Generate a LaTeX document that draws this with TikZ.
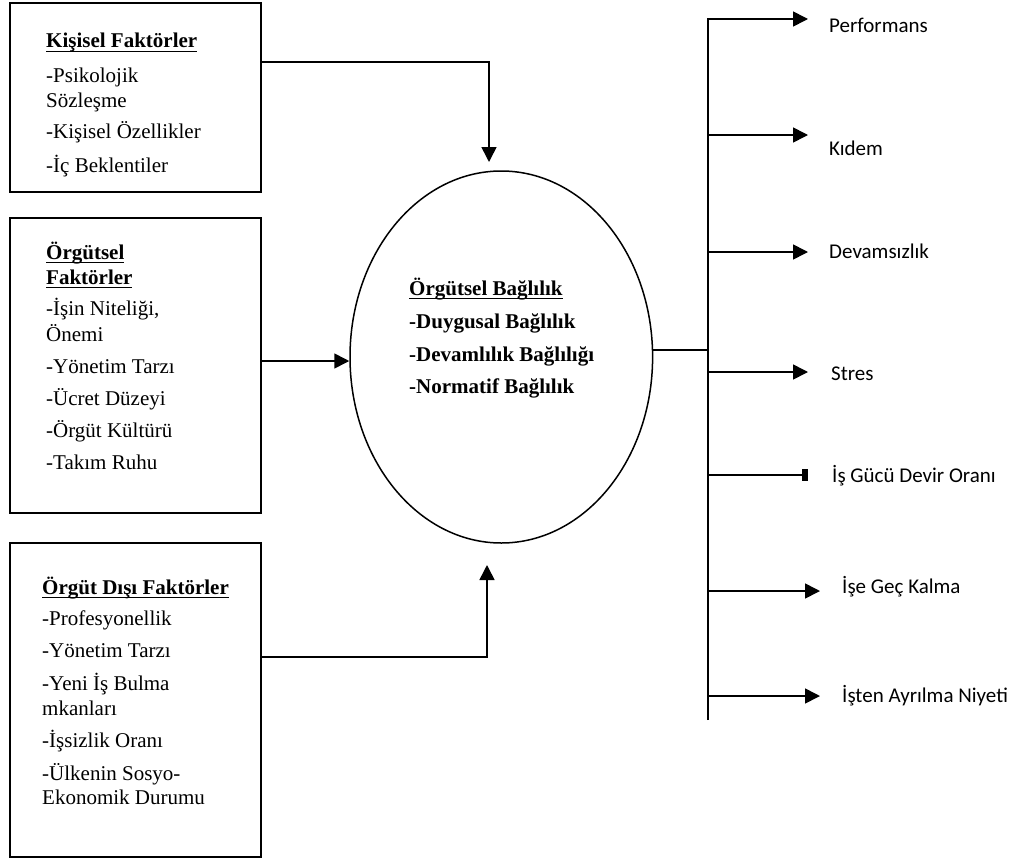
\documentclass[tikz,border=0pt]{standalone}
\usepackage{fontspec}
\setmainfont{Liberation Serif}
\newfontfamily\calfont{Carlito}
% underline set close to the baseline
\newcommand{\ulx}[1]{\setbox0\hbox{#1}\rlap{\rule[-4pt]{\wd0}{1.4pt}}\box0}
\usetikzlibrary{arrows.meta,shapes.geometric}
\begin{document}
\begin{tikzpicture}[x=1pt,y=-1pt,
  box/.style={draw,line width=2pt,rectangle,inner sep=0pt},
  txt/.style={anchor=base west,inner sep=0pt,font=\fontsize{21}{25}\selectfont},
  btxt/.style={anchor=base west,inner sep=0pt,font=\fontsize{21}{25}\selectfont\bfseries},
  outtxt/.style={anchor=base west,inner sep=0pt,font=\calfont\fontsize{21}{25}\selectfont},
  conn/.style={line width=1.6pt},
  arr/.style={conn,-{Triangle[length=15pt,width=15pt]}},
  stub/.style={conn,-{Square[length=6pt,width=12pt]}},
]
\useasboundingbox[fill=white] (0,0) rectangle (1016,859);

% factor boxes
\node[box,minimum width=251pt,minimum height=189pt] (kis) at (135.5,97.5) {};
\node[box,minimum width=251pt,minimum height=295pt] (org) at (135.5,365.5) {};
\node[box,minimum width=251pt,minimum height=314pt] (dis) at (135.5,700) {};

% personal factors
\node[btxt] (k0) at (46,48) {\ulx{Kişisel Faktörler}};
\node[txt] (k1) at (46,82) {-Psikolojik};
\node[txt] (k2) at (46,107) {Sözleşme};
\node[txt] (k3) at (46,138) {-Kişisel Özellikler};
\node[txt] (k4) at (46,172) {-İç Beklentiler};

% organisational factors
\node[btxt] (o0) at (46,259) {\ulx{Örgütsel}};
\node[btxt] (o1) at (46,284) {\ulx{Faktörler}};
\node[txt] (o2) at (46,315) {-İşin Niteliği,};
\node[txt] (o3) at (46,341) {Önemi};
\node[txt] (o4) at (46,373) {-Yönetim Tarzı};
\node[txt] (o5) at (46,405) {-Ücret Düzeyi};
\node[txt] (o6) at (46,437) {-Örgüt Kültürü};
\node[txt] (o7) at (46,469) {-Takım Ruhu};

% external factors
\node[btxt] (d0) at (42,594) {\ulx{Örgüt Dışı Faktörler}};
\node[txt] (d1) at (42,625) {-Profesyonellik};
\node[txt] (d2) at (42,657) {-Yönetim Tarzı};
\node[txt] (d3) at (42,690) {-Yeni İş Bulma};
\node[txt] (d4) at (42,715) {mkanları};
\node[txt] (d5) at (42,747) {-İşsizlik Oranı};
\node[txt] (d6) at (42,780) {-Ülkenin Sosyo-};
\node[txt] (d7) at (42,804) {Ekonomik Durumu};

% central ellipse
\node[draw,ellipse,line width=1.5pt,minimum width=302.6pt,minimum height=372pt,inner sep=0pt] (ell) at (501.3,357) {};
\node[btxt] (e0) at (409,295) {\ulx{Örgütsel Bağlılık}};
\node[btxt] (e1) at (409,328) {-Duygusal Bağlılık};
\node[btxt] (e2) at (409,361) {-Devamlılık Bağlılığı};
\node[btxt] (e3) at (409,393) {-Normatif Bağlılık};

% inputs into the ellipse
\coordinate (t1) at (489,162);
\coordinate (t3) at (487,565);
\draw[arr] ([yshift=35.5pt]kis.east) -| (t1);
\draw[arr] ([yshift=4.5pt]org.east) -- ([yshift=4.5pt]org.east -| ell.west);
\draw[arr] ([yshift=43pt]dis.east) -| (t3);

% outcome bus
\coordinate (bt) at (708,19);
\coordinate (bb) at (708,720);
\draw[conn] ([yshift=7pt]ell.east) -- ([yshift=7pt]ell.east -| bt);

\coordinate (p1) at (808,19);
\coordinate (p2) at (808,135);
\coordinate (p3) at (808,252);
\coordinate (p4) at (808,372);
\coordinate (p5) at (808,475);
\coordinate (p6) at (820,591);
\coordinate (p7) at (820,696);

\draw[arr] (bb) -- (bt) -- (p1);
\draw[arr] (bt |- p2) -- (p2);
\draw[arr] (bt |- p3) -- (p3);
\draw[arr] (bt |- p4) -- (p4);
\draw[stub] (bt |- p5) -- (p5);
\draw[arr] (bt |- p6) -- (p6);
\draw[arr] (bt |- p7) -- (p7);

% outcome labels
\node[outtxt] (r1) at (829,33) {Performans};
\node[outtxt] (r2) at (829,155) {Kıdem};
\node[outtxt] (r3) at (829,258) {Devamsızlık};
\node[outtxt] (r4) at (831,380) {Stres};
\node[outtxt] (r5) at (832,482) {İş Gücü Devir Oranı};
\node[outtxt] (r6) at (842,593) {İşe Geç Kalma};
\node[outtxt] (r7) at (842,702) {İşten Ayrılma Niyeti};
\end{tikzpicture}
\end{document}
